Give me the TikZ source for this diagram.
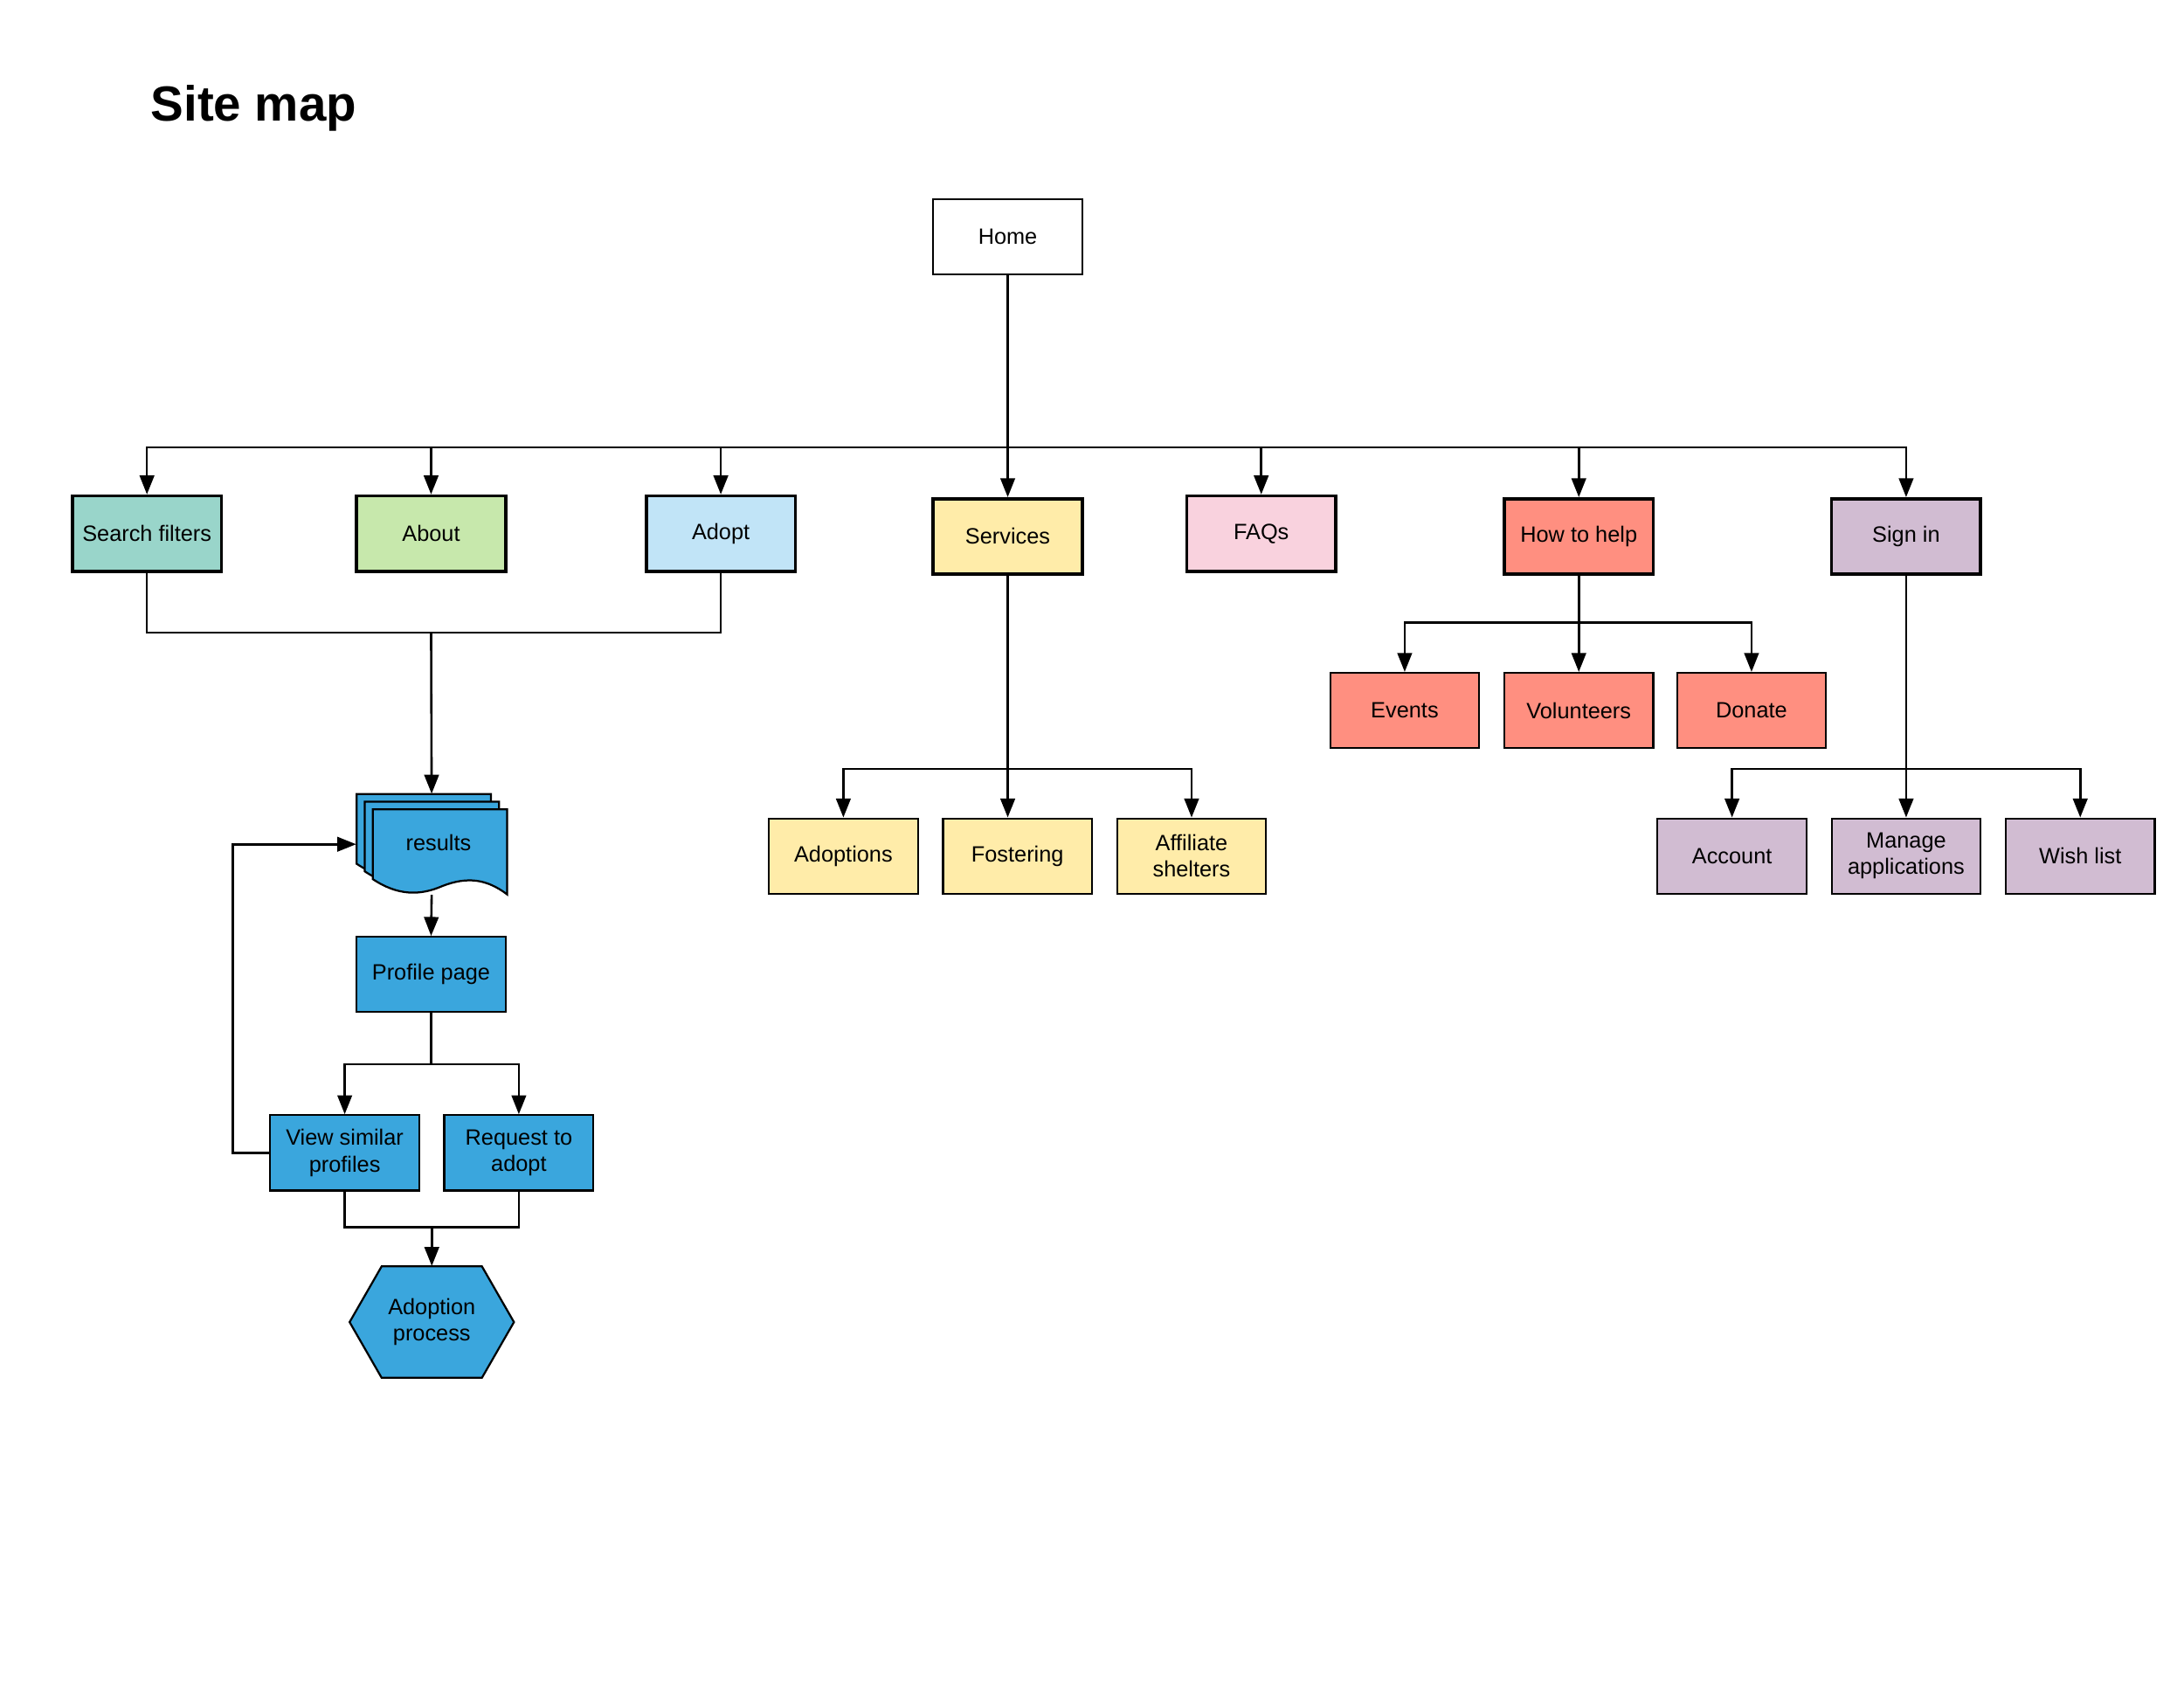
\documentclass[tikz,border=0pt]{standalone}
\usepackage{fontspec}
\setmainfont{Liberation Sans}
\usetikzlibrary{arrows.meta,positioning,calc}
\definecolor{teal}{HTML}{99D5CA}
\definecolor{leaf}{HTML}{C7E8AC}
\definecolor{sky}{HTML}{C1E4F7}
\definecolor{sand}{HTML}{FFECA9}
\definecolor{rose}{HTML}{F9D2DE}
\definecolor{salmon}{HTML}{FF8F80}
\definecolor{lilac}{HTML}{D1BCD2}
\definecolor{docblue}{HTML}{3AA6DD}

\begin{document}
\begin{tikzpicture}[x=0.25mm,y=-0.25mm,font=\fontsize{11.3}{13.5}\selectfont,
  page/.style={draw=black,line width=1pt,minimum width=26.75mm,minimum height=13.5mm,
    align=center,inner sep=1pt},
  toppage/.style={page,line width=1.6pt},
  arr/.style={-{Triangle[length=3.4mm,width=2.6mm]},line width=1.15pt},
  link/.style={line width=1.15pt},
  docshape/.style={draw=black,line width=1pt,fill=docblue}]
  \useasboundingbox (0,0) rectangle (1568,1212);

  \node[font=\fontsize{25.2}{30}\selectfont\bfseries,anchor=west,inner sep=0] (title)
    at (108,78) {Site map};

  % Top level
  \node[page] (home) at (723.5,170) {Home};
  \node[toppage,fill=teal] (search) at (105.5,383) {Search filters};
  \node[toppage,fill=leaf] (about) at (309.5,383) {About};
  \node[toppage,fill=sky] (adopt) at (517.5,383) {Adopt};
  \node[toppage,fill=sand] (services) at (723.5,385) {Services};
  \node[toppage,fill=rose] (faqs) at (905.5,383) {FAQs};
  \node[toppage,fill=salmon] (help) at (1133.5,385) {How to help};
  \node[toppage,fill=lilac] (signin) at (1368.5,385) {Sign in};

  % Adopt flow: stacked result documents, then hexagon
  \foreach \dx/\dy in {0/0,5.8/5.4,11.6/11}{
    \draw[docshape] (256+\dx,570+\dy) -- (352.5+\dx,570+\dy) -- (352.5+\dx,631+\dy)
      .. controls (338+\dx,620+\dy) and (324+\dx,618+\dy) .. (306+\dx,625+\dy)
      .. controls (290+\dx,632+\dy) and (274+\dx,632+\dy) .. (256+\dx,620+\dy) -- cycle;
  }
  \node[minimum width=26.95mm,minimum height=18mm,inner sep=0] (results)
    at (309.9,606) {\hspace*{7pt}\raisebox{1.5pt}{results}};
  \node[page,fill=docblue] (profile) at (309.5,699.5) {Profile page};
  \node[page,fill=docblue] (view) at (247.5,827.5) {View similar\\profiles};
  \node[page,fill=docblue] (request) at (372.5,827.5) {Request to\\adopt};
  \draw[docshape] (251,949) -- (274,909) -- (346,909) -- (369,949) -- (346,989)
    -- (274,989) -- cycle;
  \node[minimum width=29.5mm,minimum height=20mm,inner sep=0,align=center] (process)
    at (310,949) {Adoption\\process};

  % Services children
  \node[page,fill=sand] (adoptions) at (605.5,614.5) {Adoptions};
  \node[page,fill=sand] (fostering) at (730.5,614.5) {Fostering};
  \node[page,fill=sand] (affiliate) at (855.5,614.5) {Affiliate\\shelters};

  % How to help children
  \node[page,fill=salmon] (events) at (1008.5,510) {Events};
  \node[page,fill=salmon] (volunteers) at (1133.5,510) {Volunteers};
  \node[page,fill=salmon] (donate) at (1257.5,510) {Donate};

  % Sign in children
  \node[page,fill=lilac] (account) at (1243.5,614.5) {Account};
  \node[page,fill=lilac] (manage) at (1368.5,614.5) {Manage\\applications};
  \node[page,fill=lilac] (wish) at (1493.5,614.5) {Wish list};

  % Connectors
  \coordinate (bus) at (0,321);
  \foreach \n in {search,about,adopt,faqs,help,signin}
    \draw[arr] (home.south) -- (home.south |- bus) -| (\n.north);
  \draw[arr] (home) -- (services);

  \coordinate (join) at (0,454);
  \draw[link] (search.south) -- (search.south |- join) -- (adopt.south |- join) -- (adopt.south);
  \draw[arr] (about.south |- join) -- (results.north);
  \draw[arr] (results.south) -- (profile.north);

  \coordinate (split) at (0,764);
  \foreach \n in {view,request}
    \draw[arr] (profile.south) -- (profile.south |- split) -| (\n.north);
  \coordinate (merge) at (0,881);
  \draw[link] (view.south) -- (view.south |- merge) -- (request.south |- merge) -- (request.south);
  \draw[arr] (process.north |- merge) -- (process.north);
  \draw[arr] (view.west) -- ++(-26,0) |- (results.west);

  \coordinate (svcbus) at (0,552);
  \foreach \n in {adoptions,affiliate}
    \draw[arr] (services.south) -- (services.south |- svcbus) -| (\n.north);
  \draw[arr] (services.south) -- (services.south |- fostering.north);

  \coordinate (helpbus) at (0,447);
  \foreach \n in {events,volunteers,donate}
    \draw[arr] (help.south) -- (help.south |- helpbus) -| (\n.north);

  \foreach \n in {account,manage,wish}
    \draw[arr] (signin.south) -- (signin.south |- svcbus) -| (\n.north);
\end{tikzpicture}
\end{document}
